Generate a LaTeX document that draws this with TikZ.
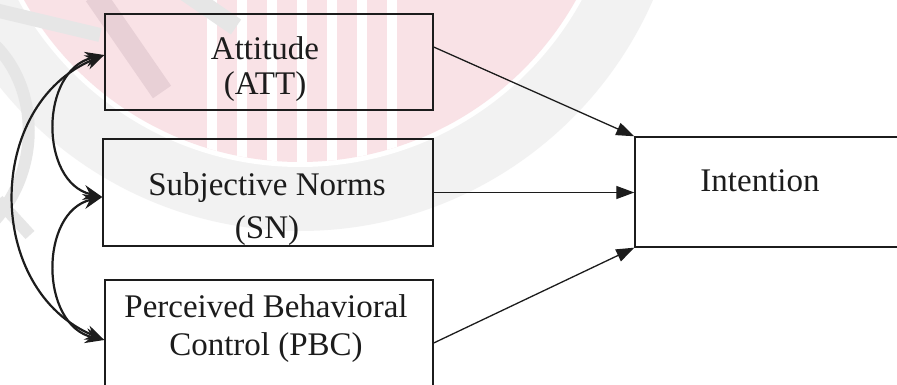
\documentclass[tikz,border=0pt]{standalone}
\usepackage{fontspec}
\setmainfont{Liberation Serif}
\usetikzlibrary{arrows.meta}
\definecolor{wmpink}{RGB}{249,226,230}
\definecolor{wmmauve}{RGB}{232,208,214}
\definecolor{wmgray}{RGB}{242,242,242}
\definecolor{wmgraydk}{RGB}{230,230,230}
\definecolor{ink}{RGB}{28,28,28}
\tikzset{
  box/.style={draw=ink, line width=1.4pt, inner sep=0pt},
  lbl/.style={font=\fontsize{33}{38}\selectfont, text=ink, inner sep=0pt, anchor=base},
  conn/.style={draw=ink, line width=1.3pt, -{Triangle[length=18pt,width=13pt]}},
  corr/.style={draw=ink, line width=2.2pt,
    {Stealth[length=19pt,width=15pt]}-{Stealth[length=19pt,width=15pt]}}
}
\begin{document}
\begin{tikzpicture}[x=1pt,y=-1pt]
\useasboundingbox (0,0) rectangle (897,385);
\fill[white] (0,0) rectangle (897,385);

% faint background seal
\begin{scope}
  \clip (0,0) rectangle (897,385);
  \fill[wmgray] (300,-154) circle[radius=385];
  \fill[white] (300,-154) circle[radius=321];
  \fill[wmpink] (300,-154) circle[radius=316];
  \begin{scope}
    \clip (300,-154) circle[radius=316];
    \foreach \k in {0,...,6}
      \fill[white] (207+30*\k,0) rectangle (217+30*\k,170);
  \end{scope}
  \draw[wmmauve, line width=22pt] (95,-5) -- (162,92);
  \draw[wmgraydk, line width=18pt] (185,-8) -- (236,27);
  \draw[wmgraydk, line width=14pt] (-5,10) -- (100,35);
  \draw[wmgraydk, line width=12pt] (-5,45) .. controls (40,90) and (40,170) .. (-5,220);
  \draw[wmgraydk, line width=12pt] (-2,200) -- (30,235);
\end{scope}

% construct boxes
\node[box, minimum width=328pt, minimum height=96pt]  (att) at (269,62) {};
\node[box, minimum width=330pt, minimum height=107pt] (sn)  at (268,192.5) {};
\node[box, minimum width=328pt, minimum height=116pt] (pbc) at (269,338) {};
\node[box, minimum width=272pt, minimum height=110pt] (int) at (771,192) {};

% box texts
\node[lbl] (attA) at (265,60)  {Attitude};
\node[lbl] (attB) at (265,95)  {(ATT)};
\node[lbl] (snA)  at (267,195) {Subjective Norms};
\node[lbl] (snB)  at (267,238) {(SN)};
\node[lbl] (pbcA) at (266,317) {Perceived Behavioral};
\node[lbl] (pbcB) at (266,355) {Control (PBC)};
\node[lbl] (intA) at (760,191) {Intention};

% paths into intention
\draw[conn] ([yshift=15pt]att.east) -- (int.north west);
\draw[conn] (sn.east) -- (sn.east -| int.west);
\draw[conn] ([yshift=-5pt]pbc.east) -- (int.south west);

% correlations among the predictors
\coordinate (attL) at ([yshift=7pt]att.west);
\coordinate (snL)  at ([yshift=-4.5pt]sn.west);
\coordinate (pbcL) at ([yshift=-2pt]pbc.west);
\draw[corr] (attL) .. controls +(-65,15) and +(-63,-15) .. (snL);
\draw[corr] (snL) .. controls +(-63,15) and +(-65,-15) .. (pbcL);
\draw[corr] (attL) .. controls +(-120,50) and +(-120,-50) .. (pbcL);
\end{tikzpicture}
\end{document}
